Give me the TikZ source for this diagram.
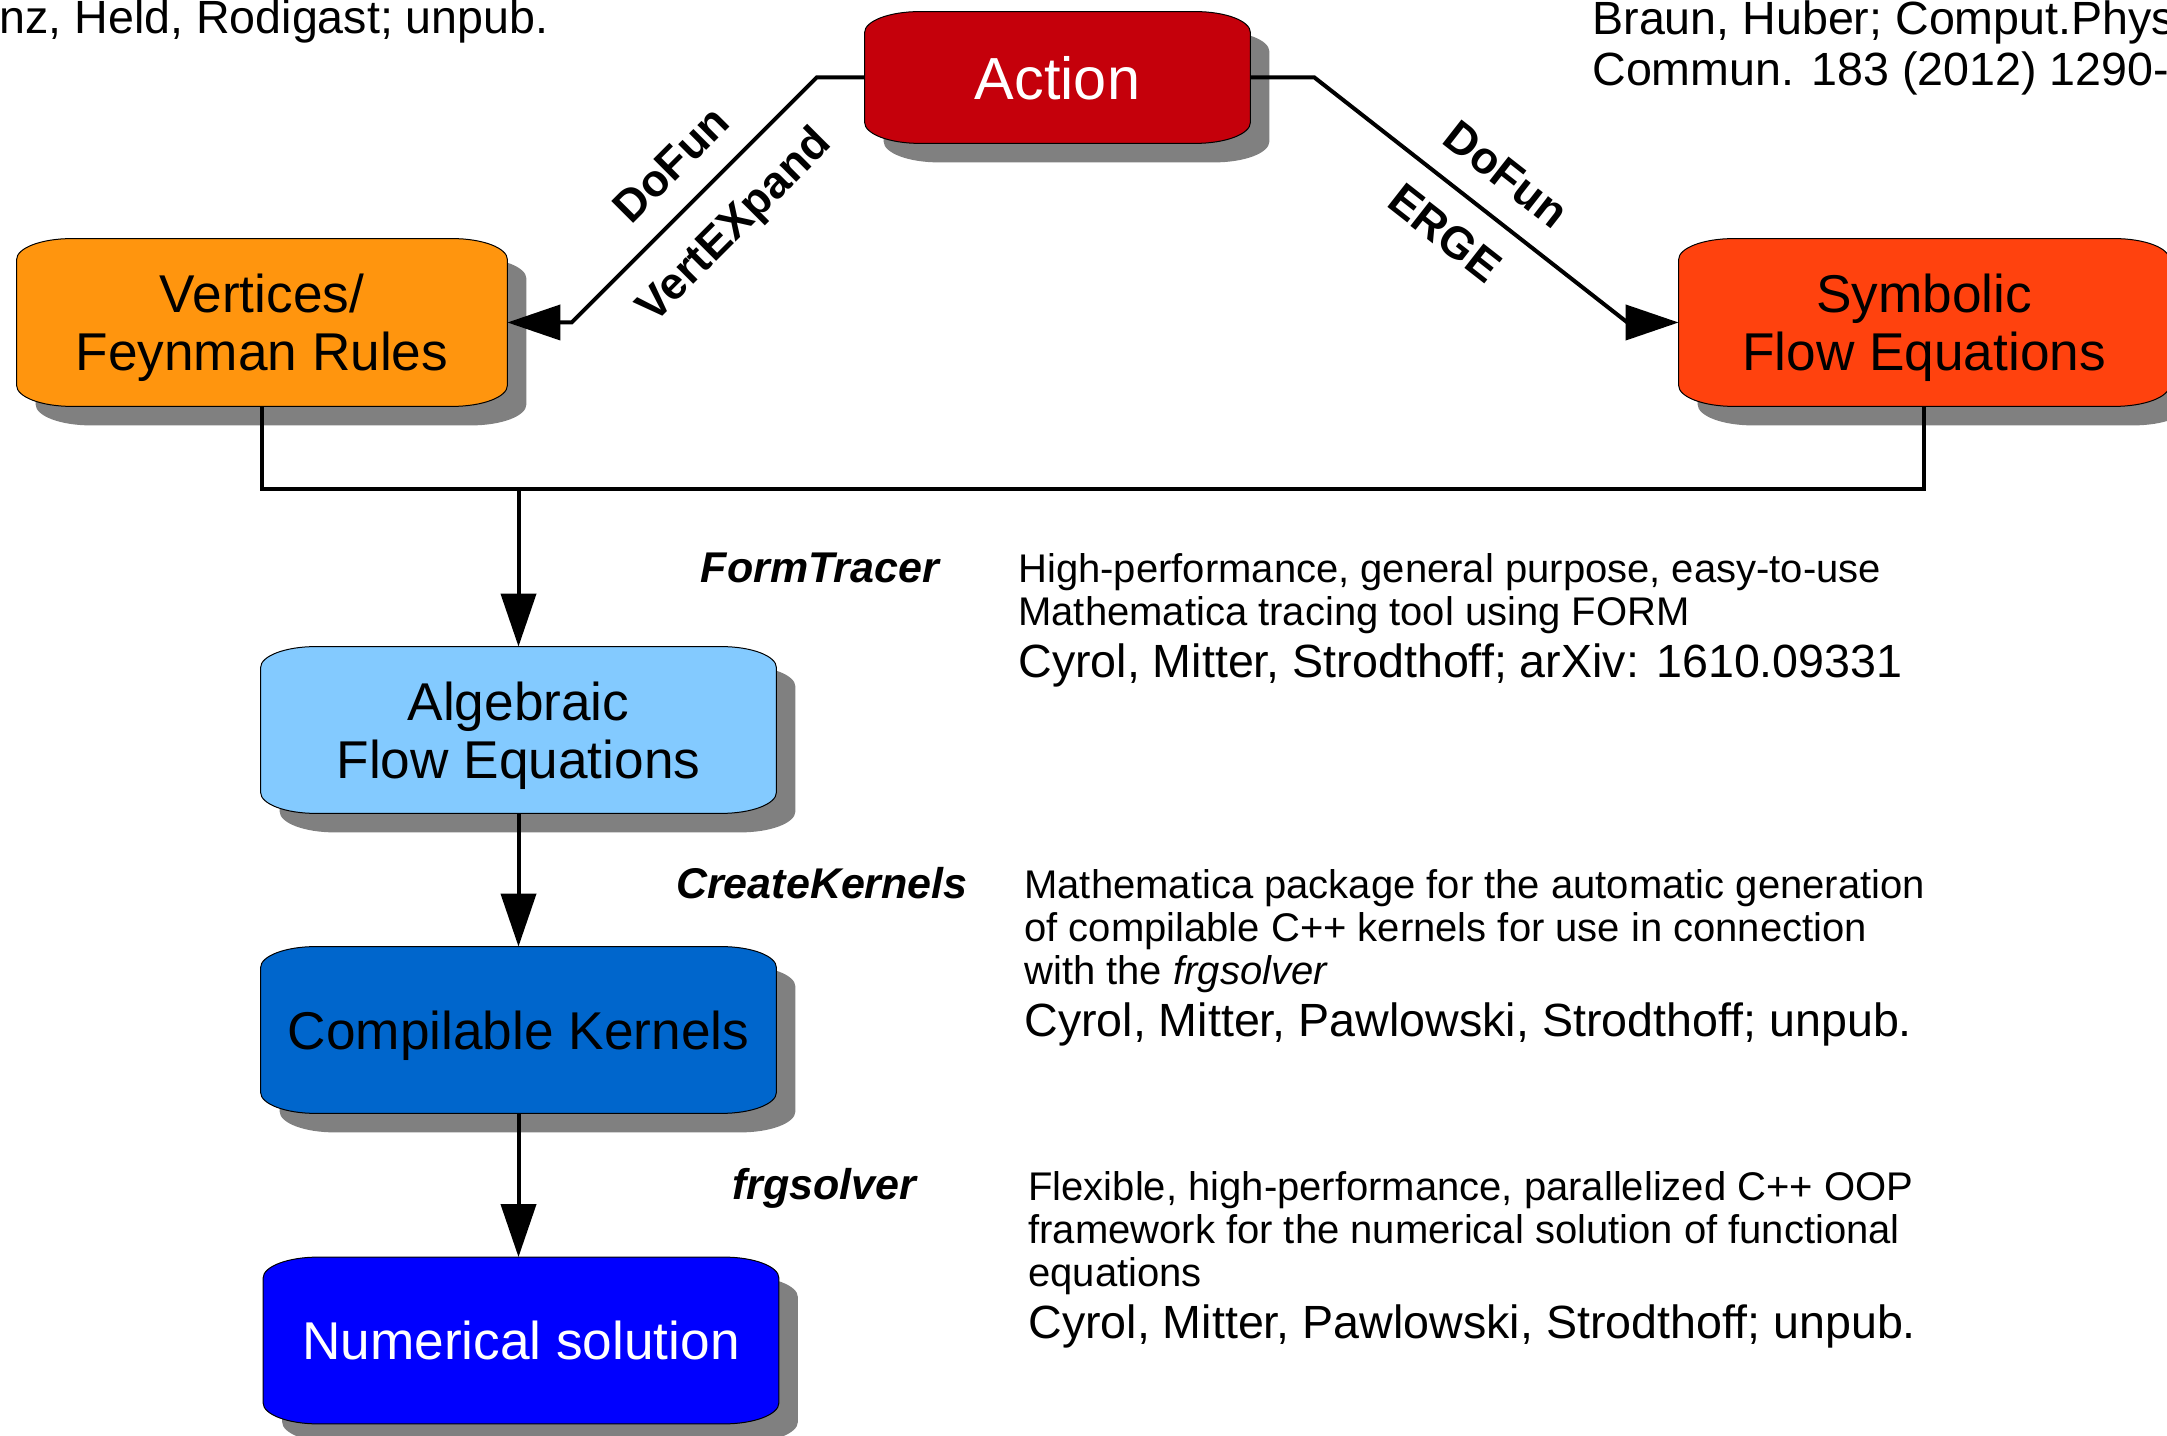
\documentclass[tikz,border=0pt]{standalone}
\usepackage{fontspec}
\setmainfont{Liberation Sans}
\usepackage{tikz}
\usetikzlibrary{positioning,calc,arrows.meta,backgrounds}

\definecolor{actionred}{HTML}{C5000B}
\definecolor{vertorange}{HTML}{FF950E}
\definecolor{symbred}{HTML}{FF420E}
\definecolor{algblue}{HTML}{83CAFF}
\definecolor{kernblue}{HTML}{0066CC}
\definecolor{numblue}{HTML}{0000FF}
\definecolor{shadowgray}{HTML}{808080}

\newcommand{\refsize}{\fontsize{23.3}{25.5}\selectfont}

% rounded box with flat elliptic corners around a node
\newcommand{\softbox}[3]{%
  \path[#2] let \p1=($(#1.south west)+#3$), \p2=($(#1.north east)+#3$) in
    (\x1,\y1+10.5pt) -- (\x1,\y2-10.5pt)
    arc[start angle=180, end angle=90, x radius=27.5pt, y radius=10.5pt]
    -- (\x2-27.5pt,\y2)
    arc[start angle=90, end angle=0, x radius=27.5pt, y radius=10.5pt]
    -- (\x2,\y1+10.5pt)
    arc[start angle=0, end angle=-90, x radius=27.5pt, y radius=10.5pt]
    -- (\x1+27.5pt,\y1)
    arc[start angle=270, end angle=180, x radius=27.5pt, y radius=10.5pt]
    -- cycle;
}

\tikzset{
  box/.style={rectangle, inner sep=0pt, minimum width=245pt, minimum height=83.5pt,
    align=center, text depth=0pt, font=\fontsize{26.6}{29}\selectfont},
  widebox/.style={box, minimum width=257.5pt, minimum height=83pt},
  line/.style={line width=2pt},
  flow/.style={line width=2pt, -{Triangle[length=26.5pt,width=17.5pt]}},
  tool/.style={anchor=base, inner sep=0pt, font=\fontsize{21.5}{25}\selectfont\bfseries\itshape},
  pkg/.style={font=\fontsize{22.5}{26}\selectfont\bfseries},
  info/.style={anchor=north west, inner sep=0pt, align=left, font=\fontsize{20}{21.5}\selectfont},
}

\begin{document}
\begin{tikzpicture}[x=0.5pt, y=0.5pt]
    \useasboundingbox (0,0) rectangle (2167,1435);
    \clip (0,0) rectangle (2167,1435);

    % Boxes
    \node[box, minimum width=192.5pt, minimum height=65.5pt, text=white,
      font=\fontsize{29.7}{32}\selectfont] (Action) at (1057.5,1357.5) {Action};
    \node[box] (Vertices) at (262,1112.5) {Vertices/\\Feynman Rules};
    \node[box] (Symbolic) at (1924,1112.5) {Symbolic\\Flow Equations};
    \node[widebox] (Algebraic) at (518.5,705) {Algebraic\\Flow Equations};
    \node[widebox] (Compilable) at (518.5,405) {Compilable Kernels};
    \node[widebox, text=white] (Numerical) at (521,94.5) {Numerical solution};

    % Shadows and fills
    \begin{pgfonlayer}{background}
      \foreach \b in {Action,Vertices,Symbolic,Algebraic,Compilable,Numerical}
        \softbox{\b}{fill=shadowgray}{(9.5pt,-9.5pt)};
      \foreach \b/\c in {Action/actionred,Vertices/vertorange,Symbolic/symbred,
                         Algebraic/algblue,Compilable/kernblue,Numerical/numblue}
        \softbox{\b}{fill=\c, draw=black, line width=0.5pt}{(0,0)};
    \end{pgfonlayer}

    % Action to vertices and flow equations
    \draw[flow] (Action.west) -- ++(-48,0) -- ++(-245,-245)
      node[pkg, pos=0.475, sloped, above, inner sep=12pt] {DoFun}
      node[pkg, pos=0.47, sloped, below, inner sep=12.5pt] {VertEXpand}
      -- (Vertices.east);
    \draw[flow] (Action.east) -- ++(64,0) -- ++(313,-245)
      node[pkg, pos=0.53, sloped, above, inner sep=12pt] {DoFun}
      node[pkg, midway, sloped, below, inner sep=12pt] {ERGE}
      -- (Symbolic.west);

    % Joining line
    \coordinate (bus) at ($(Vertices.south)+(0,-83)$);
    \draw[line] (Vertices.south) -- (bus) -| (Symbolic.south);
    \draw[flow] (bus -| Algebraic.north) -- (Algebraic.north);
    \draw[flow] (Algebraic.south) -- (Compilable.north);
    \draw[flow] (Compilable.south) -- (Compilable.south |- Numerical.north);

    % Tools
    \node[tool] (ftlabel) at (820,852) {FormTracer};
    \node[tool] (cklabel) at (822,536) {CreateKernels};
    \node[tool] (fslabel) at (824,235) {frgsolver};

    % Descriptions
    \node[info] (ftinfo) at (1018,882) {High-performance, general purpose, easy-to-use\\
      Mathematica tracing tool using FORM\\[4.5pt]
      {\refsize Cyrol, Mitter, Strodthoff; arXiv: 1610.09331}};
    \node[info] (ckinfo) at (1024,566) {Mathematica package for the automatic generation\\
      of compilable C++ kernels for use in connection\\
      with the \textit{frgsolver}\\[4.5pt]
      {\refsize Cyrol, Mitter, Pawlowski, Strodthoff; unpub.}};
    \node[info] (fsinfo) at (1028,264) {Flexible, high-performance, parallelized C++ OOP\\
      framework for the numerical solution of functional\\
      equations\\[4.5pt]
      {\refsize Cyrol, Mitter, Pawlowski, Strodthoff; unpub.}};

    % References at the top
    \node[anchor=base east, inner sep=0pt, font=\refsize] (vxref) at (549,1401)
      {nz, Held, Rodigast; unpub.};
    \node[anchor=north west, inner sep=0pt, align=left, font=\refsize] (dfref) at (1592,1435)
      {Braun, Huber; Comput.Phys\\Commun. 183 (2012) 1290-};

\end{tikzpicture}
\end{document}
